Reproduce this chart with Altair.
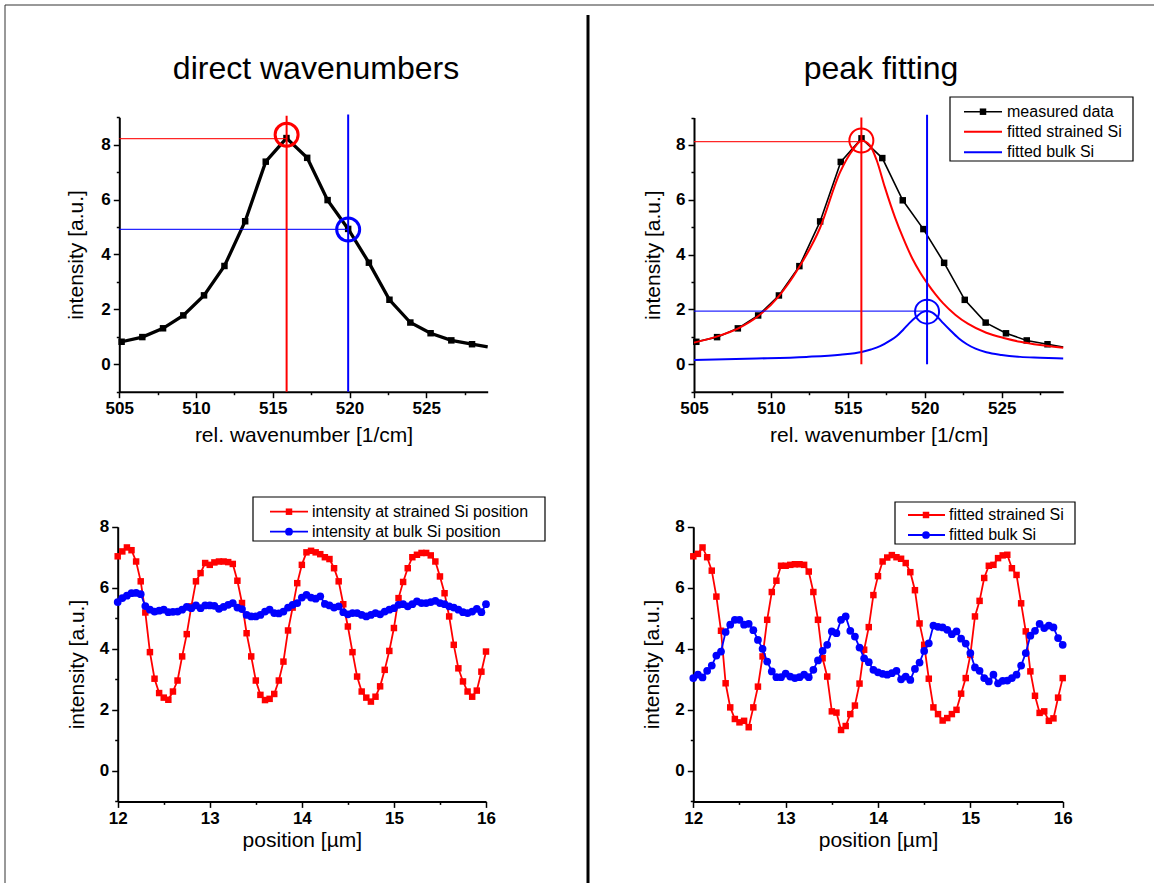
import altair as alt
import pandas as pd

W, H = 1154, 883
FONT = "Liberation Sans"
RED = "#ff0000"
BLUE = "#0000ff"

# ---------------- spectrum (top panels) ----------------
wn_meas = [505.15, 506.5, 507.85, 509.17, 510.52, 511.85, 513.2, 514.54, 515.89,
           517.24, 518.57, 519.91, 521.26, 522.6, 523.96, 525.28, 526.63, 527.98]
int_meas = [0.82, 0.99, 1.31, 1.78, 2.51, 3.58, 5.21, 7.38, 8.24,
            7.52, 5.98, 4.93, 3.70, 2.35, 1.52, 1.13, 0.87, 0.73]
wn_meas_end = [529.0]
int_meas_end = [0.63]

wn_fit_strained = [505.0, 506.47, 507.88, 509.18, 510.48, 511.78, 513.19, 514.49, 515.36,
                   515.9, 516.44, 516.87, 517.41, 518.07, 518.6, 519.2, 519.7, 520.17,
                   520.7, 521.2, 522.0, 522.8, 524.0, 525.2, 526.2, 527.5, 529.0]
int_fit_strained = [0.79, 1.01, 1.31, 1.76, 2.46, 3.49, 4.97, 7.0, 7.85,
                    8.15, 7.98, 7.45, 6.45, 5.35, 4.6, 3.85, 3.35, 2.95,
                    2.55, 2.22, 1.8, 1.48, 1.15, 0.95, 0.82, 0.7, 0.6]

wn_fit_bulk = [505.0, 509.07, 512.3, 514.5, 515.9, 516.5, 517.1, 517.74, 518.2, 518.6,
               519.0, 519.47, 519.85, 520.17, 520.5, 520.77, 521.2, 521.64, 522.2, 522.72,
               523.3, 524.0, 525.0, 526.2, 527.5, 529.0]
int_fit_bulk = [0.16, 0.21, 0.27, 0.35, 0.45, 0.54, 0.66, 0.86, 1.04, 1.26,
                1.5, 1.74, 1.9, 1.94, 1.88, 1.76, 1.5, 1.25, 0.95, 0.74,
                0.57, 0.44, 0.34, 0.27, 0.24, 0.21]

# guide lines / circles
tl_peak_x = [515.9, 519.91]
tl_hline_y = [8.22, 4.91]
tl_vline_top = [9.05, 9.1]
tl_vline_bottom = [-1, -1]
tl_circle_y = [8.36, 4.91]

tr_peak_x = [515.88, 520.15]
tr_hline_y = [8.12, 1.94]
tr_vline_top = [9.0, 9.1]
tr_vline_bottom = [0, 0]
tr_circle_y = [8.16, 1.92]

guide_colors = [RED, BLUE]

# ---------------- line scans (bottom panels) ----------------
pos = [12.00, 12.05, 12.10, 12.15, 12.20, 12.25, 12.30, 12.35, 12.40, 12.45,
       12.50, 12.55, 12.60, 12.65, 12.70, 12.75, 12.80, 12.85, 12.90, 12.95,
       13.00, 13.05, 13.10, 13.15, 13.20, 13.25, 13.30, 13.35, 13.40, 13.45,
       13.50, 13.55, 13.60, 13.65, 13.70, 13.75, 13.80, 13.85, 13.90, 13.95,
       14.00, 14.05, 14.10, 14.15, 14.20, 14.25, 14.30, 14.35, 14.40, 14.45,
       14.50, 14.55, 14.60, 14.65, 14.70, 14.75, 14.80, 14.85, 14.90, 14.95,
       15.00, 15.05, 15.10, 15.15, 15.20, 15.25, 15.30, 15.35, 15.40, 15.45,
       15.50, 15.55, 15.60, 15.65, 15.70, 15.75, 15.80, 15.85, 15.90, 15.95,
       16.00]

direct_strained = [7.03, 7.19, 7.32, 7.23, 6.86, 6.21, 5.19, 3.89, 3.02, 2.55,
                   2.40, 2.33, 2.60, 2.96, 3.75, 4.48, 5.39, 6.21, 6.48, 6.81,
                   6.75, 6.83, 6.86, 6.86, 6.84, 6.78, 6.23, 5.50, 4.51, 3.75,
                   2.96, 2.49, 2.32, 2.36, 2.52, 2.96, 3.58, 4.60, 5.35, 6.15,
                   6.75, 7.16, 7.21, 7.16, 7.10, 7.00, 6.94, 6.64, 6.21, 5.46,
                   4.73, 3.89, 3.09, 2.60, 2.40, 2.27, 2.43, 2.77, 3.31, 3.93,
                   4.68, 5.66, 6.19, 6.64, 7.00, 7.08, 7.14, 7.14, 7.06, 6.86,
                   6.37, 5.82, 5.06, 4.13, 3.36, 2.93, 2.60, 2.43, 2.63, 3.25,
                   3.91]
direct_bulk = [5.53, 5.66, 5.74, 5.82, 5.83, 5.79, 5.40, 5.28, 5.22, 5.25,
               5.28, 5.20, 5.21, 5.22, 5.28, 5.37, 5.33, 5.42, 5.33, 5.42,
               5.42, 5.41, 5.31, 5.37, 5.44, 5.50, 5.35, 5.30, 5.11, 5.06,
               5.06, 5.11, 5.22, 5.28, 5.17, 5.16, 5.22, 5.35, 5.44, 5.50,
               5.68, 5.77, 5.68, 5.64, 5.72, 5.47, 5.42, 5.35, 5.39, 5.20,
               5.13, 5.17, 5.17, 5.11, 5.06, 5.11, 5.17, 5.13, 5.22, 5.28,
               5.33, 5.44, 5.46, 5.39, 5.46, 5.55, 5.50, 5.50, 5.53, 5.57,
               5.50, 5.46, 5.39, 5.35, 5.28, 5.20, 5.17, 5.22, 5.31, 5.20,
               5.46]
fitted_strained = [7.03, 7.11, 7.32, 7.00, 6.56, 5.71, 4.59, 2.87, 2.08, 1.70,
                   1.59, 1.64, 1.43, 2.08, 2.76, 3.75, 4.95, 5.86, 6.23, 6.72,
                   6.72, 6.75, 6.77, 6.77, 6.75, 6.53, 5.86, 4.95, 3.69, 3.09,
                   1.95, 1.91, 1.34, 1.47, 1.86, 2.14, 2.86, 3.97, 4.71, 5.76,
                   6.38, 6.86, 6.99, 7.07, 7.00, 6.95, 6.81, 6.51, 5.92, 4.83,
                   4.13, 3.02, 2.08, 1.86, 1.65, 1.73, 1.86, 2.00, 2.53, 3.04,
                   3.80, 5.06, 5.57, 6.32, 6.72, 6.75, 6.97, 7.06, 7.08, 6.64,
                   6.42, 5.49, 4.57, 3.26, 2.46, 1.90, 1.95, 1.64, 1.72, 2.40,
                   3.04]
fitted_bulk = [3.04, 3.15, 3.06, 3.28, 3.45, 3.78, 3.91, 4.55, 4.79, 4.95,
               4.95, 4.79, 4.82, 4.61, 4.29, 4.00, 3.58, 3.26, 3.07, 3.07,
               3.19, 3.09, 3.04, 3.07, 3.15, 3.07, 3.31, 3.62, 3.93, 4.13,
               4.57, 4.51, 4.95, 5.06, 4.59, 4.40, 4.04, 3.69, 3.56, 3.31,
               3.23, 3.18, 3.15, 3.20, 3.28, 3.00, 3.09, 2.98, 3.34, 3.55,
               3.93, 4.18, 4.76, 4.72, 4.70, 4.62, 4.48, 4.57, 4.33, 4.17,
               3.86, 3.39, 3.28, 3.04, 2.93, 3.15, 2.87, 2.95, 2.96, 3.04,
               3.15, 3.45, 3.86, 4.43, 4.59, 4.82, 4.68, 4.76, 4.70, 4.35,
               4.13]

# tick values
x_ticks_wn = [505, 507.5, 510, 512.5, 515, 517.5, 520, 522.5, 525, 527.5]
y_ticks_top = [-1, 0, 1, 2, 3, 4, 5, 6, 7, 8, 9]
x_ticks_pos = [12, 12.5, 13, 13.5, 14, 14.5, 15, 15.5, 16]
y_ticks_bottom = [-1, 0, 1, 2, 3, 4, 5, 6, 7, 8]


# ---------------- helpers ----------------
def common_axis(title, values, mod, orient, offset, tpad):
    return alt.Axis(
        title=title, values=values, orient=orient, offset=offset, format="~g",
        labelExpr=f"datum.value % {mod} === 0 ? datum.label : ''",
        tickSize={"condition": {"test": f"datum.value % {mod} === 0", "value": 6}, "value": 3},
        grid=False, domainColor="black", domainWidth=2, tickColor="black", tickWidth=1.5,
        labelFont=FONT, labelFontSize=17, labelFontWeight="bold", labelColor="black",
        labelPadding=3, labelFlush=False, labelOverlap=False,
        titleFont=FONT, titleFontSize=21, titleFontWeight="normal", titleColor="black",
        titlePadding=tpad,
    )


class Panel:
    def __init__(self, xdom, xrng, ydom, yrng, xtitle, ytitle, xticks, xmod, yticks, ymod, xtpad, ytpad):
        self.sx = alt.Scale(domain=xdom, range=xrng, zero=False, nice=False)
        self.sy = alt.Scale(domain=ydom, range=yrng, zero=False, nice=False)
        self.ax = common_axis(xtitle, xticks, xmod, "bottom", yrng[0] - H, xtpad)
        self.ay = common_axis(ytitle, yticks, ymod, "left", -xrng[0], ytpad)

    def X(self):
        return alt.X("x:Q", scale=self.sx, axis=self.ax)

    def Y(self):
        return alt.Y("y:Q", scale=self.sy, axis=self.ay)


def df(**kw):
    return pd.DataFrame(kw)


def guides(p, peak_x, hline_y, vtop, vbottom, circ_y, vwidth, cwidth, csize):
    vl = alt.Chart(df(x=peak_x, y=vbottom, y2=vtop, c=guide_colors)).mark_rule(strokeWidth=vwidth).encode(
        x=p.X(), y=p.Y(), y2="y2:Q", color=alt.Color("c:N", scale=None))
    hl = alt.Chart(df(x=[505.0, 505.0], x2=peak_x, y=hline_y, c=guide_colors)).mark_rule(
        strokeWidth=1.2, opacity=0.85).encode(
        x=p.X(), x2="x2:Q", y=p.Y(), color=alt.Color("c:N", scale=None))
    ci = alt.Chart(df(x=peak_x, y=circ_y, c=guide_colors)).mark_point(
        shape="circle", filled=False, size=csize, strokeWidth=cwidth, opacity=1).encode(
        x=p.X(), y=p.Y(), color=alt.Color("c:N", scale=None))
    return [hl, vl, ci]


# ---------------- top-left: direct wavenumbers ----------------
tl = Panel([505, 529], [119.3, 487.7], [-1, 9], [391.7, 117.2],
           "rel. wavenumber [1/cm]", "intensity [a.u.]", x_ticks_wn, 5, y_ticks_top, 2, 8, 14)
meas_line = df(x=wn_meas + wn_meas_end, y=int_meas + int_meas_end)
meas_pts = df(x=wn_meas, y=int_meas)

tl_layers = [
    alt.Chart(meas_line).mark_line(color="black", strokeWidth=3.3).encode(x=tl.X(), y=tl.Y()),
    alt.Chart(meas_pts).mark_point(shape="square", filled=True, size=42, color="black", opacity=1).encode(x=tl.X(), y=tl.Y()),
] + guides(tl, tl_peak_x, tl_hline_y, tl_vline_top, tl_vline_bottom, tl_circle_y, 2, 3, 529)
panel_tl = alt.layer(*tl_layers)

# ---------------- top-right: peak fitting ----------------
tr = Panel([505, 529], [694.0, 1063.2], [-1, 9], [391.7, 117.5],
           "rel. wavenumber [1/cm]", "intensity [a.u.]", x_ticks_wn, 5, y_ticks_top, 2, 8, 12)
tr_layers = [
    alt.Chart(meas_line).mark_line(color="black", strokeWidth=1.6).encode(x=tr.X(), y=tr.Y()),
    alt.Chart(meas_pts).mark_point(shape="square", filled=True, size=42, color="black", opacity=1).encode(x=tr.X(), y=tr.Y()),
    alt.Chart(df(x=wn_fit_bulk, y=int_fit_bulk)).mark_line(color=BLUE, strokeWidth=2, interpolate="monotone").encode(x=tr.X(), y=tr.Y()),
    alt.Chart(df(x=wn_fit_strained, y=int_fit_strained)).mark_line(color=RED, strokeWidth=2, interpolate="monotone").encode(x=tr.X(), y=tr.Y()),
] + guides(tr, tr_peak_x, tr_hline_y, tr_vline_top, tr_vline_bottom, tr_circle_y, 2, 2, 576)
panel_tr = alt.layer(*tr_layers)

# ---------------- bottom panels ----------------
def scan_panel(xrng, strained, bulk):
    p = Panel([12, 16], xrng, [-1, 8], [801.4, 526.7],
              "position [µm]", "intensity [a.u.]", x_ticks_pos, 1, y_ticks_bottom, 2, 3, 12)
    ds = df(x=pos, y=strained)
    db = df(x=pos, y=bulk)
    return alt.layer(
        alt.Chart(ds).mark_line(color=RED, strokeWidth=1.8).encode(x=p.X(), y=p.Y()),
        alt.Chart(ds).mark_point(shape="square", filled=True, size=42, color=RED, opacity=1).encode(x=p.X(), y=p.Y()),
        alt.Chart(db).mark_line(color=BLUE, strokeWidth=1.8).encode(x=p.X(), y=p.Y()),
        alt.Chart(db).mark_point(shape="circle", filled=True, size=60, color=BLUE, opacity=1).encode(x=p.X(), y=p.Y()),
    )

panel_bl = scan_panel([117.7, 486.0], direct_strained, direct_bulk)
panel_br = scan_panel([693.3, 1062.7], fitted_strained, fitted_bulk)

# ---------------- decorations ----------------
one = pd.DataFrame({"d": [0]})


def vtext(txt, x, y, size=16, align="left", baseline="middle"):
    return alt.Chart(one).mark_text(text=txt, font=FONT, fontSize=size, color="black",
                                    align=align, baseline=baseline).encode(x=alt.value(x), y=alt.value(y))


def vrule(x1, y1, x2, y2, color="black", width=1.0):
    return alt.Chart(one).mark_rule(color=color, strokeWidth=width).encode(
        x=alt.value(x1), y=alt.value(y1), x2=alt.value(x2), y2=alt.value(y2))


def vbox(x1, y1, x2, y2):
    return alt.Chart(one).mark_rect(fill="white", stroke="black", strokeWidth=1.2).encode(
        x=alt.value(x1), y=alt.value(y1), x2=alt.value(x2), y2=alt.value(y2))


def vmarker(x, y, shape, color, size):
    return alt.Chart(one).mark_point(shape=shape, filled=True, size=size, color=color, opacity=1).encode(
        x=alt.value(x), y=alt.value(y))


decor = [
    vrule(5, 5, W, 5, "#333333", 1),
    vrule(5, 5, 5, H, "#333333", 1),
    vrule(588, 15, 588, H, "black", 3),
    vtext("direct wavenumbers", 316, 79, 32, "center", "alphabetic"),
    vtext("peak fitting", 881, 79, 32, "center", "alphabetic"),
    # legend top-right
    vbox(950, 97, 1133, 161),
    vrule(964, 111.7, 1002, 111.7, "black", 1.6), vmarker(983, 111.7, "square", "black", 42),
    vtext("measured data", 1007, 111.7),
    vrule(964, 131.7, 1002, 131.7, RED, 2), vtext("fitted strained Si", 1007, 131.7),
    vrule(964, 152.3, 1002, 152.3, BLUE, 2), vtext("fitted bulk Si", 1007, 152.3),
    # legend bottom-left
    vbox(253, 497, 545, 541),
    vrule(270, 511.7, 308, 511.7, RED, 1.8), vmarker(289, 511.7, "square", RED, 42),
    vtext("intensity at strained Si position", 312, 511.7),
    vrule(270, 531.7, 308, 531.7, BLUE, 1.8), vmarker(289, 531.7, "circle", BLUE, 60),
    vtext("intensity at bulk Si position", 312, 531.7),
    # legend bottom-right
    vbox(895, 502, 1075, 544),
    vrule(908, 515, 945, 515, RED, 1.8), vmarker(926, 515, "square", RED, 42),
    vtext("fitted strained Si", 949, 515),
    vrule(908, 535, 945, 535, BLUE, 1.8), vmarker(926, 535, "circle", BLUE, 60),
    vtext("fitted bulk Si", 949, 535),
]

chart = alt.layer(panel_tl, panel_tr, panel_bl, panel_br, *decor).resolve_scale(
    x="independent", y="independent").resolve_axis(
    x="independent", y="independent").properties(
    width=W, height=H, padding=0, autosize=alt.AutoSizeParams(type="none"),
    background="white").configure_view(strokeWidth=0)

chart.save("out.html", embed_options={"renderer": "svg", "actions": False})
